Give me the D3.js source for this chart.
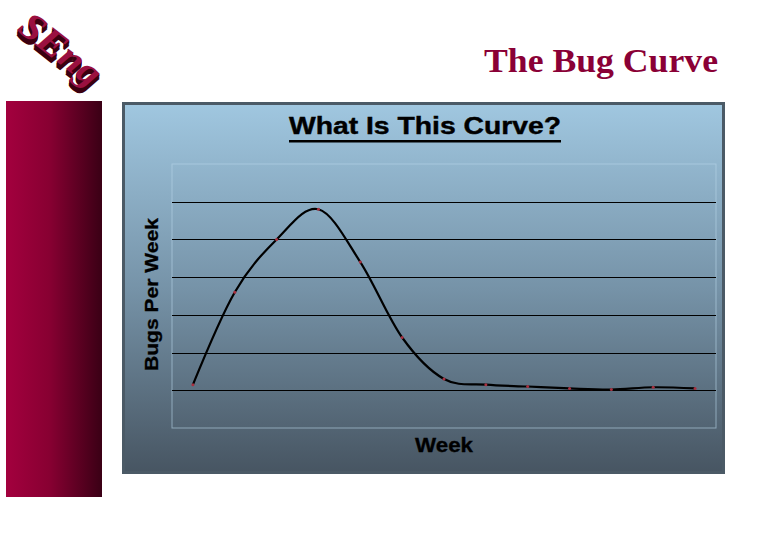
<!DOCTYPE html>
<html><head><meta charset="utf-8">
<script src="https://cdn.jsdelivr.net/npm/d3@7"></script>
<style>html,body{margin:0;padding:0;background:#fff;}svg{display:block;}</style>
</head><body>
<svg id="c" width="780" height="540"></svg>
<script>
const weeks = [1,2,3,4,5,6,7,8,9,10,11,12,13];
const bugsPerWeek = [1.5, 26, 40, 48, 34, 14, 3, 1.5, 1, 0.5, 0.2, 0.8, 0.5];
const gridValues = [0, 10, 20, 30, 40, 50];
const slideTitle = "The Bug Curve";
const chartTitle = "What Is This Curve?";
const yLabel = "Bugs Per Week";
const xLabel = "Week";

const svg = d3.select("#c");
const defs = svg.append("defs");
const gBar = defs.append("linearGradient").attr("id","bar").attr("x1","0").attr("x2","1").attr("y1","0").attr("y2","0");
gBar.append("stop").attr("offset","0").attr("stop-color","#a3003e");
gBar.append("stop").attr("offset","0.45").attr("stop-color","#880032");
gBar.append("stop").attr("offset","1").attr("stop-color","#3a0015");
const gPan = defs.append("linearGradient").attr("id","pan").attr("x1","0").attr("x2","0").attr("y1","0").attr("y2","1");
gPan.append("stop").attr("offset","0").attr("stop-color","#a0c7e0");
gPan.append("stop").attr("offset","0.5").attr("stop-color","#7693a8");
gPan.append("stop").attr("offset","1").attr("stop-color","#475562");

// left bar
svg.append("rect").attr("x",6).attr("y",101).attr("width",96).attr("height",396).attr("fill","url(#bar)");

// logo
const logo = svg.append("g").attr("transform","translate(16,30) rotate(38)");
for (let i = 5; i >= 1; i--) {
  logo.append("text").attr("x",i*0.6).attr("y",i*0.9)
    .attr("font-family","Liberation Serif").attr("font-weight","bold").attr("font-style","italic")
    .attr("font-size",38).attr("fill","#3a0010").attr("textLength",94).attr("lengthAdjust","spacingAndGlyphs").text("SEng");
}
logo.append("text").attr("x",0).attr("y",0)
  .attr("font-family","Liberation Serif").attr("font-weight","bold").attr("font-style","italic")
  .attr("font-size",38).attr("fill","#9a1040").attr("textLength",94).attr("lengthAdjust","spacingAndGlyphs").text("SEng");

// slide title
svg.append("text").attr("x",718).attr("y",72).attr("text-anchor","end")
  .attr("font-family","Liberation Serif").attr("font-weight","bold").attr("font-size",33)
  .attr("fill","#8a0036").attr("textLength",234).attr("lengthAdjust","spacingAndGlyphs").text(slideTitle);

// chart panel
svg.append("rect").attr("x",123.5).attr("y",103.5).attr("width",600).attr("height",369)
  .attr("fill","url(#pan)").attr("stroke","#4b5a66").attr("stroke-width",3);

const x = d3.scalePoint().domain(weeks).range([172,716]).padding(0.5);
const y = d3.scaleLinear().domain([-10,60]).range([428,164]);

// plot area border
svg.append("rect").attr("x",172).attr("y",164).attr("width",544).attr("height",264)
  .attr("fill","none").attr("stroke","#b8d6e8").attr("stroke-width",1).attr("opacity",0.6);

// gridlines
svg.append("g").selectAll("line").data(gridValues).join("line")
  .attr("x1",172).attr("x2",716)
  .attr("y1",d=>Math.round(y(d))+0.5).attr("y2",d=>Math.round(y(d))+0.5)
  .attr("stroke","#000").attr("stroke-width",1);

// curve
const line = d3.line().x((d,i)=>x(weeks[i])).y(d=>y(d)).curve(d3.curveCardinal.tension(0));
svg.append("path").datum(bugsPerWeek).attr("d",line)
  .attr("fill","none").attr("stroke","#000").attr("stroke-width",2.2);
svg.append("g").selectAll("circle").data(bugsPerWeek).join("circle")
  .attr("cx",(d,i)=>x(weeks[i])).attr("cy",d=>y(d)).attr("r",1.5).attr("fill","#a83040");

// chart title
svg.append("text").attr("x",289).attr("y",134)
  .attr("font-family","Liberation Sans").attr("font-weight","bold").attr("font-size",23)
  .attr("fill","#000").attr("stroke","#000").attr("stroke-width",0.4)
  .attr("textLength",272).attr("lengthAdjust","spacingAndGlyphs").text(chartTitle);
svg.append("rect").attr("x",289).attr("y",140).attr("width",272).attr("height",2.5).attr("fill","#000");

// axis labels
svg.append("text").attr("transform","translate(158,371) rotate(-90)")
  .attr("font-family","Liberation Sans").attr("font-weight","bold").attr("font-size",19)
  .attr("fill","#000").attr("stroke","#000").attr("stroke-width",0.3)
  .attr("textLength",153).attr("lengthAdjust","spacingAndGlyphs").text(yLabel);
svg.append("text").attr("x",415).attr("y",452)
  .attr("font-family","Liberation Sans").attr("font-weight","bold").attr("font-size",20)
  .attr("fill","#000").attr("stroke","#000").attr("stroke-width",0.3)
  .attr("textLength",58).attr("lengthAdjust","spacingAndGlyphs").text(xLabel);
</script>
</body></html>
